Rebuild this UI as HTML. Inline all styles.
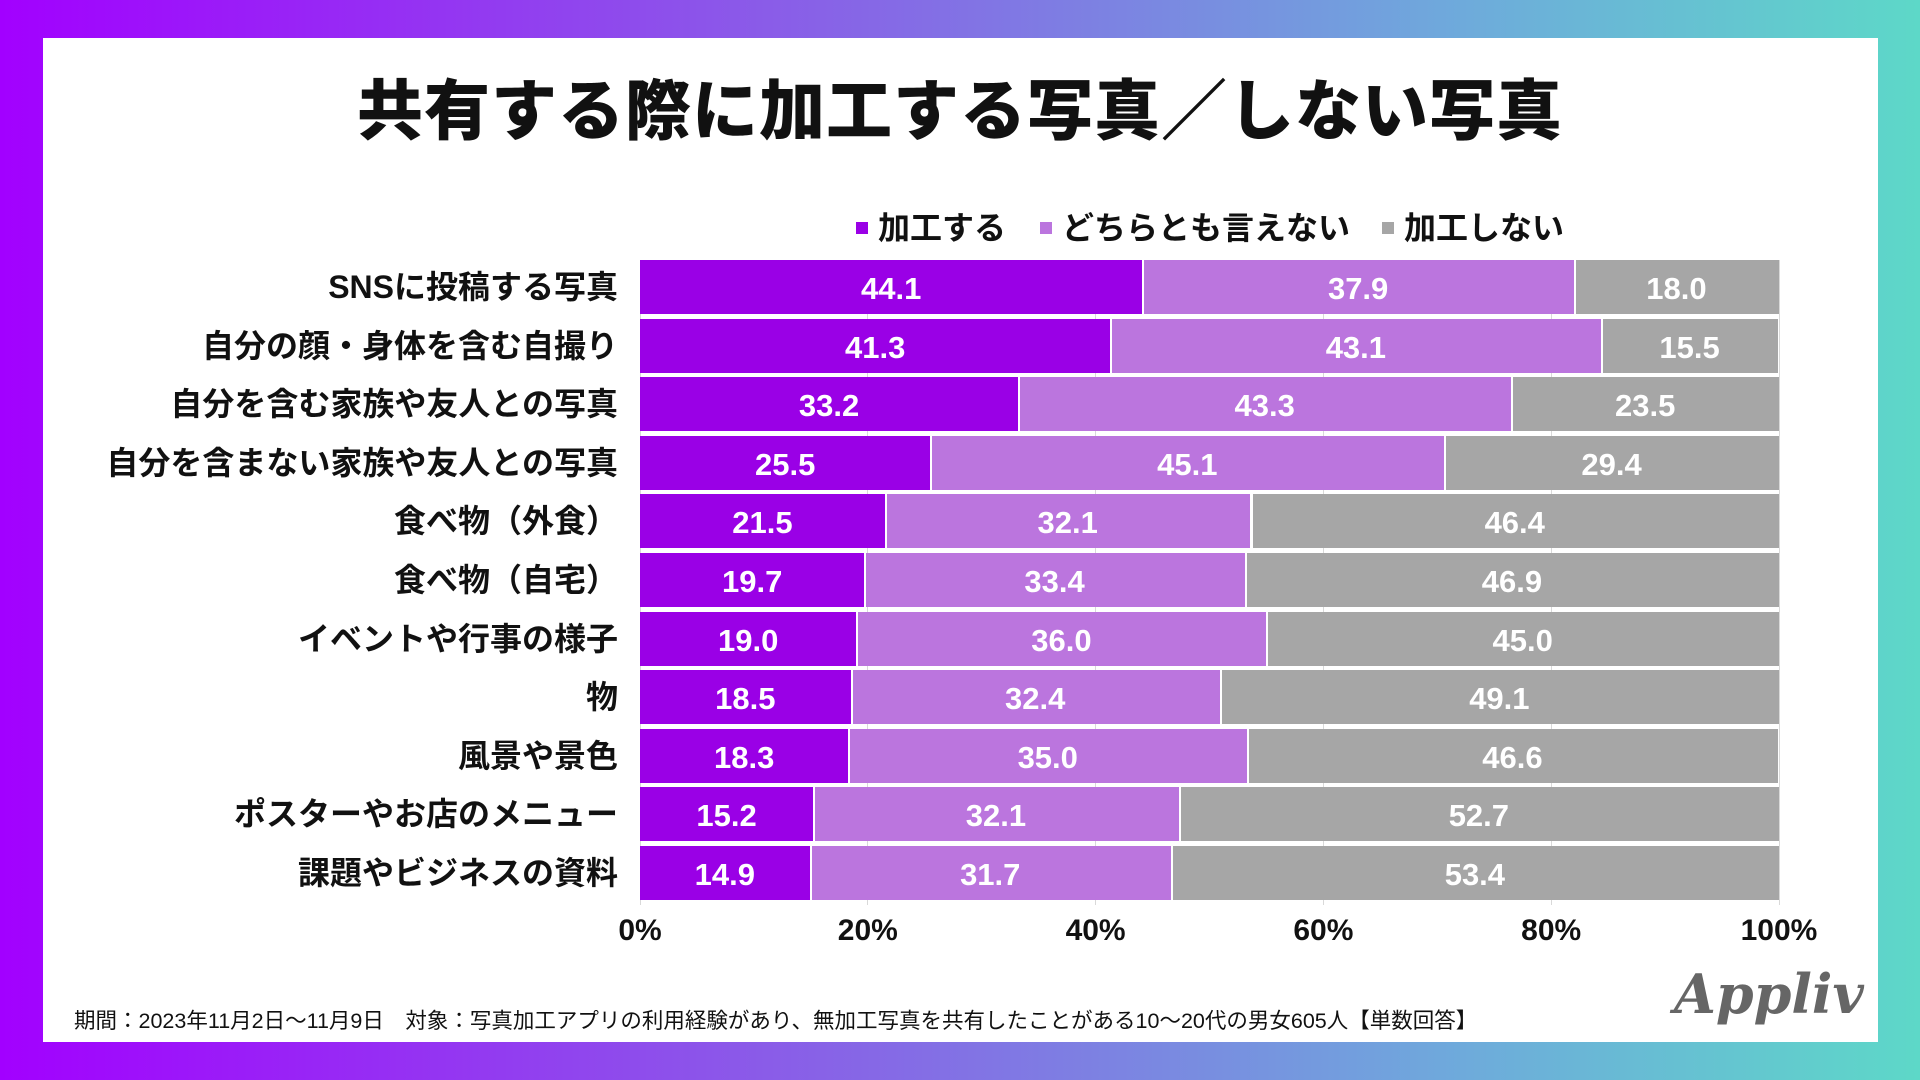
<!DOCTYPE html>
<html><head><meta charset="utf-8">
<style>
html,body{margin:0;padding:0;}
body{width:1920px;height:1080px;position:relative;overflow:hidden;background:linear-gradient(90deg,#a200ff 0%,#8a5ce8 40%,#6fa8dc 75%,#5dd8c8 100%);font-family:"Liberation Sans","Noto Sans CJK JP",sans-serif;}
#panel{position:absolute;left:43px;top:38px;width:1835px;height:1004px;background:#fff;}
.abs{position:absolute;}
#title{left:0;width:1920px;top:58px;text-align:center;font-size:66px;font-weight:900;color:#111;letter-spacing:1px;}
.leg{top:203px;font-size:32px;font-weight:700;color:#111;white-space:nowrap;}
.sw{display:inline-block;width:12px;height:12px;margin-right:10px;vertical-align:middle;position:relative;top:-3px;}
.cat{font-size:32px;font-weight:700;color:#111;text-align:right;width:600px;left:18px;white-space:nowrap;}
.val{color:#fff;font-size:31px;font-weight:700;text-align:center;white-space:nowrap;}
.tick{font-size:30px;font-weight:700;color:#111;width:120px;text-align:center;}
#foot{left:74px;top:1004px;font-size:21.5px;color:#111;white-space:nowrap;}
#logo{left:1674px;top:962px;font-family:"DejaVu Serif",serif;font-style:italic;font-weight:700;font-size:54px;color:#666;}
</style></head>
<body>
<div id="panel"></div>
<div id="title" class="abs">共有する際に加工する写真／しない写真</div>
<div class="abs leg" style="left:856px"><span class="sw" style="background:#9a00e6"></span>加工する</div>
<div class="abs leg" style="left:1040px"><span class="sw" style="background:#bb75de"></span>どちらとも言えない</div>
<div class="abs leg" style="left:1382px"><span class="sw" style="background:#a6a6a6"></span>加工しない</div>
<div id="chart"></div>
<div id="foot" class="abs">期間：2023年11月2日〜11月9日　対象：写真加工アプリの利用経験があり、無加工写真を共有したことがある10〜20代の男女605人【単数回答】</div>
<div id="logo" class="abs">Appliv</div>
<script>
const categories=["SNSに投稿する写真","自分の顔・身体を含む自撮り","自分を含む家族や友人との写真","自分を含まない家族や友人との写真","食べ物（外食）","食べ物（自宅）","イベントや行事の様子","物","風景や景色","ポスターやお店のメニュー","課題やビジネスの資料"];
const editValues=[44.1,41.3,33.2,25.5,21.5,19.7,19.0,18.5,18.3,15.2,14.9];
const neutralValues=[37.9,43.1,43.3,45.1,32.1,33.4,36.0,32.4,35.0,32.1,31.7];
const noEditValues=[18.0,15.5,23.5,29.4,46.4,46.9,45.0,49.1,46.6,52.7,53.4];
const tickValues=[0,20,40,60,80,100];
const tickLabels=["0%","20%","40%","60%","80%","100%"];

const X0=640,X1=1779,TOP=260,PITCH=58.6,BH=54;
const xs=v=>X0+(X1-X0)*v/100;
const ys=i=>TOP+i*PITCH;
const chart=document.getElementById('chart');
const colors=["#9a00e6","#bb75de","#a6a6a6"];
const names=["edit","neutral","no-edit"];
tickValues.forEach((t,k)=>{
  const g=document.createElement('div');
  g.className='abs';
  
  
  g.style.cssText=`left:${xs(t)-0.5}px;top:${TOP}px;width:1px;height:${PITCH*categories.length}px;background:#d9d9d9;`;
  chart.appendChild(g);
});
categories.forEach((c,i)=>{
  const series=[editValues[i],neutralValues[i],noEditValues[i]];
  let acc=0;
  series.forEach((v,s)=>{
    const b=document.createElement('div');
    b.className='abs';
    
    
    const l=xs(acc),r=xs(Math.min(100,acc+v));
    b.style.cssText=`left:${l}px;top:${ys(i)}px;width:${r-l}px;height:${BH}px;background:${colors[s]};`+(s>0?'border-left:2px solid #fff;box-sizing:border-box;':'');
    chart.appendChild(b);
    const t=document.createElement('div');
    t.className='abs val';
    
    
    t.textContent=v.toFixed(1);
    t.style.cssText+=`left:${l}px;width:${r-l}px;top:${ys(i)+11}px;`;
    chart.appendChild(t);
    acc+=v;
  });
  const lab=document.createElement('div');
  lab.className='abs cat';
  
  
  lab.textContent=c;
  lab.style.top=(ys(i)+2)+'px';
  chart.appendChild(lab);
});
tickValues.forEach((t,k)=>{
  const d=document.createElement('div');
  d.className='abs tick';
  
  
  d.textContent=tickLabels[k];
  d.style.left=(xs(t)-60)+'px';
  d.style.top='914px';
  chart.appendChild(d);
});
</script>
</body></html>
